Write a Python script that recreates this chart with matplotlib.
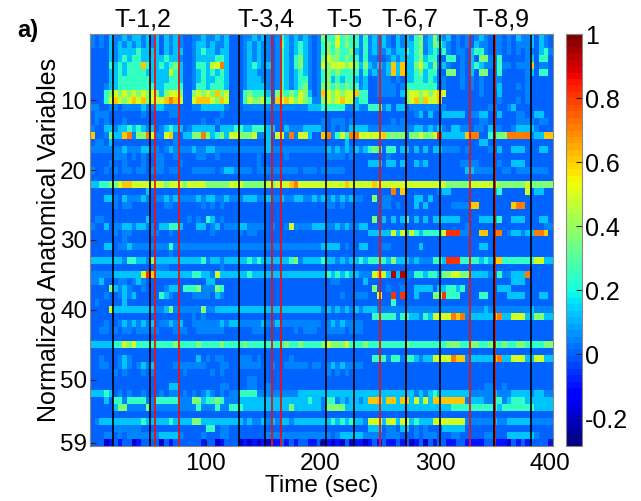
import matplotlib
matplotlib.use('Agg')
import matplotlib.pyplot as plt
import numpy as np

plt.rcParams['font.family'] = ['Liberation Sans', 'DejaVu Sans']

# one string per variable, 100 time bins, digit = level in niveis, n=-0.1, m=-0.2
linhas = [
    "1010211212 2121202121 0011211212 0001121210 1321212101 4335343313 1212102121 3412421201 0101210110 1021120210",
    "1010212121 2121202121 0012212112 0001212110 1421232101 3435343313 1212102122 3412432101 0102110110 1011120210",
    "0000212222 3222202122 0012322122 0001212110 1321232101 3434334213 1211212232 3412323101 1023310110 1010110231",
    "0000212323 3222223221 0012222332 0001212110 1321342101 4544343313 1100121222 3423300330 1020441130 0000120330",
    "0000323233 3632232342 0013325572 0001232120 1321342101 5455545424 2121262622 4532412100 1023211131 1011160110",
    "0000223233 3322222532 0012323232 0001221110 1321232101 3434333313 1211262622 3423300440 1020440130 0000120330",
    "0000223333 3332222332 0012322332 0001222110 1321233101 3423233212 0011101022 3323201000 1010100110 0000100000",
    "0001223333 3333223333 0013323332 0001222210 1321234101 4434343312 0011110133 3333301000 1010100120 0010100000",
    "0003454545 4545424554 0045454645 0003433320 4434354201 6545455633 0011110245 5454565000 0000100020 0000100000",
    "0003565456 5645556765 0056665465 0003544530 6565454311 4545655233 0000000045 6465560000 0000000010 0010100000",
    "1100110111 1211221110 0011222221 0001111111 1111111222 3333311211 3331202201 1111111000 0000001100 1200000000",
    "0111000000 0100000110 0000000010 0000000000 0000000000 0000000000 0000000000 1202002222 2011220020 0011002200",
    "0101000100 0000000000 0000100100 0000000000 0000000000 1011101000 0000010100 0000000000 0000110000 0011110110",
    "1002212232 3212012322 0122222022 2332233322 0021112222 1010102222 1111111111 2212121022 1101102110 0122221000",
    "6001422671 4475115610 2244742342 5544451120 5517155200 6713537755 5556444414 4544582222 2677003344 7777712266",
    "0110200000 0000000010 0000000000 0000000020 0000000000 0000020000 0000000000 0000000000 0000220000 0000000000",
    "1111111211 1221101211 1121122111 1111111121 1111111111 1212121212 3430330220 2020221111 0100001020 0222000220",
    "0000011101 0100110010 0001100100 0000001000 0010000000 0111101000 0000100000 0000000000 0000000000 0000000000",
    "0000100100 0100110001 0000000000 0000001000 0000000000 0000000000 2220220200 2120000000 1111000010 0222000000",
    "1001010110 1101110110 0011111012 2111101111 1111101110 1111100000 0000000000 0000000000 0221111001 1011111110",
    "0000000000 0000000000 0000000000 0000000000 0000000000 0000000000 0000000000 0000000000 0000000000 0000000000",
    "2233445665 5555554555 4555544444 5554444454 5556755555 5555565555 5655555555 5555555444 4455555544 4444544444",
    "0000000000 0020000000 0000000000 0000000000 0000000000 0000000000 0000070600 0000012200 0000000230 0000502200",
    "0002210211 1210112121 1112122112 1112221121 1211221121 2121212110 0401100000 2202000000 0000000000 0000000000",
    "0000010110 0000001100 0000101010 0000000000 0000000000 0110100000 0001101000 2020000011 1166000000 0677000000",
    "0000000000 0000000000 0000000000 0000000000 0000000000 0000000000 0000000000 0000000000 0000000000 0000000000",
    "0110000000 0020000000 0101032010 0000000000 0000000000 0000000000 0402020230 2020222222 0000222230 0222000220",
    "1002011221 2211022332 0002201201 1122111101 0015111122 2112121122 0000000000 0000000000 0100000000 0000000011",
    "0000010110 0001100100 0000001000 0010110000 0000000000 0000000000 2222252525 3233335888 1100660770 1221227760",
    "0000000100 0000000000 0000000000 0000000000 0000000000 0000000000 0000000000 0000000000 0000000000 0000000000",
    "0002201121 1111111311 1111111111 1111111111 1111111111 2222010022 0001100000 0200000000 0000220000 0000000000",
    "0000000000 0000000100 0000000000 0000000000 0000000000 0000000000 0000000000 0000000000 0000000000 0000000000",
    "2222222133 2214222222 2222312212 2222323222 2223412222 3221212232 3333242221 2111332888 3333232663 3333335522",
    "0000000000 0000111000 0000000010 0000000000 0000000000 0000000000 0000000000 0000000000 0000000000 0000000000",
    "1111122222 2586222222 2233221522 2222322222 2222222222 2323232211 1565292911 3323324455 4422221131 1222700000",
    "1120001101 2100000000 0000022000 0000000000 0000000000 0011000002 0000000000 0000000000 0000000000 0222000000",
    "0000421210 0100001220 3334111430 0000000000 0000000000 0000000000 0400100100 2222022332 3000000022 2000000000",
    "0001001212 0000032100 0011110210 0000000000 0000000000 0000100111 0050080800 2000448333 0000330000 2222000220",
    "0100000200 0000000000 0000000000 0000000000 0000000000 0000000000 0000030000 0000000000 0000000000 0000000000",
    "0000522222 2222112411 1111411222 2222222222 2222222222 1212121212 2211111111 1111111111 1111121111 1111121111",
    "0000000000 0000000000 0010100000 0000000000 0000000000 0000000000 0333331332 2132555576 7122222672 2555224422",
    "0001001212 1212011212 0011111121 2211111211 2111111111 0121211110 0000000000 0000000000 0000000000 0000000000",
    "0011010110 1111100011 1001111110 0000011100 0000101110 0111101110 0000000000 0000000000 0000000000 0000000000",
    "0000000000 0000000000 0000000000 0000000000 0000000000 0000000000 0000000000 0000000000 0000000000 0000000000",
    "2222233545 3333333343 3334333343 3334333333 3343343333 4544453334 3333333343 3333333444 3344334434 3344333344",
    "0000000000 0000000000 0000000000 0000000000 0000000000 0000000000 0000000000 0000000000 0000000000 0000000000",
    "0010001210 0000000000 0002010110 0011101000 0001000000 0000000000 0333133133 2122555576 6122222672 2555225522",
    "0011001210 1212000011 1111100011 0011111001 0011111011 0121211110 0000000000 0000000000 0000000000 0000000000",
    "0000010100 0101000000 1000001010 0000000000 0000000000 0101010000 0000000000 0000000000 0000000000 0000000000",
    "0000000000 0000000000 0000000000 0000110000 0000000000 0000000000 0000000000 0000000000 0000000000 0000000000",
    "0000000000 0000000220 0000000011 0000110010 0000000000 0000000000 0000000000 0000000000 0000011001 0000000000",
    "2223201010 0100010110 1010121010 1133331111 1111122222 2222222222 2222222222 1212322222 2211111211 1222212211",
    "0002033133 3311333331 1144233431 1122222222 2222222322 1331212212 6662662662 5252666666 6122211331 2333222222",
    "0000024411 1141111111 1113111311 3332222222 2224222222 1444422222 2222222222 2222222233 3333333323 3333332222",
    "0000000000 0000000000 0000000000 0000000000 0000000000 0000000000 0000000000 0000000000 0000000000 0000000000",
    "0122222222 2322222322 2244222222 2221211212 1221222222 2232323221 5552552552 3222555555 5111111211 2222211111",
    "0000011111 1000000000 0000033011 0000000000 0000000000 0000000000 2220110220 1010002222 2000000000 0000000000",
    "0001101011 1111122221 0000100011 0000000011 1111111111 1101222221 1110111000 1011100011 0000011000 2222221000",
    "000mn0n00m n0000m0n00 0000n00mn0 00mnmnmnmn n0n0n00nn0 mnmnm0mnnm n0n0nn0n0m n0m0n00nn0 0nnnn00nnn m0n0n0000n",
]

niveis = [0, 0.05, 0.13, 0.25, 0.36, 0.49, 0.6, 0.7, 0.8, 0.92]

tempos_pretos = [19.2, 51.2, 129.4, 151.4, 204.6, 229.6, 274.4, 304.6, 351.7, 384.2]
tempos_vermelhos = [55.3, 76.5, 157.8, 165.6, 251.7, 274.9, 330.2, 352.3]

rotulos_t = ['T-1,2', 'T-3,4', 'T-5', 'T-6,7', 'T-8,9']
tempos_t = [45, 153, 221, 278, 358]

ticks_x = [100, 200, 300, 400]
ticks_y = [10, 20, 30, 40, 50, 59]
ticks_barra = [-0.2, 0, 0.2, 0.4, 0.6, 0.8, 1]
rotulos_barra = ['-0.2', '0', '0.2', '0.4', '0.6', '0.8', '1']


def decodifica(linha):
    valores = []
    for c in linha.replace(' ', ''):
        if c == 'n':
            valores.append(-0.1)
        elif c == 'm':
            valores.append(-0.2)
        else:
            valores.append(niveis[int(c)])
    return valores


matriz = np.array([decodifica(l) for l in linhas])

L, H = 641, 501
fig = plt.figure(figsize=(L / 100, H / 100), dpi=100)
eixo = fig.add_axes([90 / L, (H - 446) / H, 463 / L, 412 / H])
barra = fig.add_axes([566 / L, (H - 446) / H, 16 / L, 412 / H])

cmap = plt.get_cmap('jet', 64)
im = eixo.imshow(matriz, cmap=cmap, vmin=-0.2875, vmax=1, aspect='auto',
                 interpolation='nearest', extent=[-1, 403, 59.5, 0.5])

for t in tempos_vermelhos:
    eixo.axvline(t, color='#e8140c', lw=1.3)
for t in tempos_pretos:
    eixo.axvline(t, color='black', lw=1.2)

eixo.set_xticks(ticks_x)
eixo.set_yticks(ticks_y)
eixo.tick_params(direction='in', length=4, width=0.8, labelsize=17.5, pad=2, color='#222222')
eixo.tick_params(axis='x', pad=5)
eixo.set_xlabel('Time (sec)', fontsize=17.5, labelpad=0)
eixo.set_ylabel('Normalized Anatomical Variables', fontsize=18, labelpad=-1)
for s in eixo.spines.values():
    s.set_color('#888888')

for t, r in zip(tempos_t, rotulos_t):
    eixo.text(t, 1.006, r, transform=eixo.get_xaxis_transform(), ha='center', va='bottom', fontsize=18)

fig.text(17 / L, 1 - 37 / H, 'a)', fontsize=17, fontweight='bold')

cb = fig.colorbar(im, cax=barra)
cb.set_ticks(ticks_barra)
cb.set_ticklabels(rotulos_barra)
cb.ax.tick_params(direction='in', length=4, width=0.8, labelsize=18, pad=2, color='#222222')
cb.outline.set_edgecolor('#888888')

fig.savefig('out.png', dpi=100)
